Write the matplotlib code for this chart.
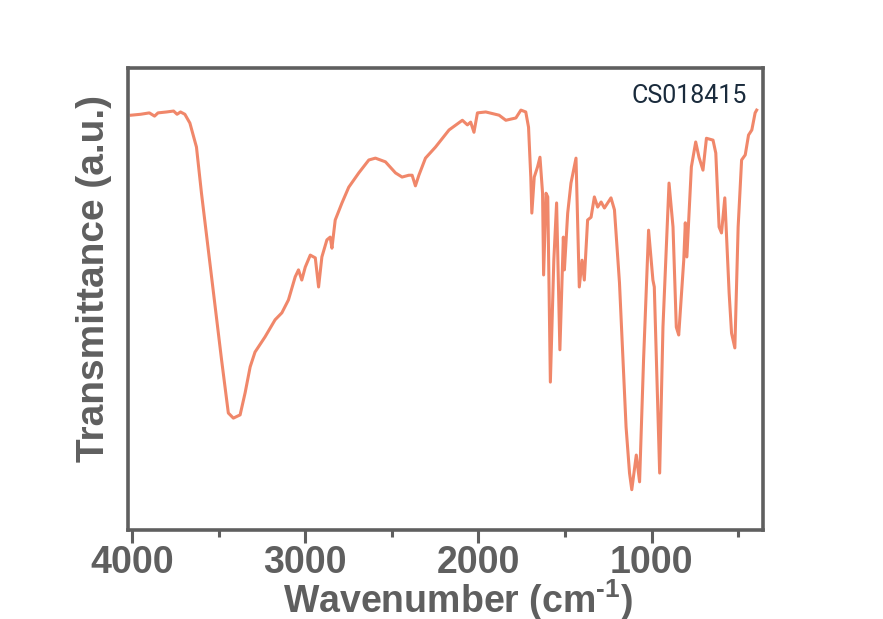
import numpy as np
import matplotlib.pyplot as plt

# wavenumber (cm-1) and transmittance (a.u.)
wavenumber = [4005, 3950, 3900, 3870, 3850, 3800, 3760, 3740, 3720, 3695,
              3666, 3628, 3599, 3541, 3483, 3444, 3415, 3376, 3347, 3318,
              3290, 3232, 3174, 3135, 3097, 3058, 3039, 3020, 3000, 2971,
              2942, 2923, 2904, 2875, 2856, 2846, 2827, 2788, 2749, 2691,
              2633, 2595, 2537, 2479, 2441, 2402, 2383, 2364, 2344, 2306,
              2248, 2170, 2093, 2064, 2045, 2026, 2006, 1958, 1881, 1842,
              1784, 1755, 1727, 1711, 1698, 1692, 1678, 1659, 1645, 1630,
              1624, 1610, 1600, 1585, 1565, 1549, 1530, 1510, 1504, 1485,
              1466, 1437, 1418, 1402, 1389, 1370, 1350, 1331, 1312, 1292,
              1273, 1235, 1215, 1186, 1148, 1128, 1115, 1089, 1070, 1047,
              1018, 993, 985, 954, 935, 900, 877, 858, 844, 815,
              806, 797, 771, 746, 727, 704, 684, 646, 630, 611,
              597, 578, 553, 539, 520, 501, 481, 460, 441, 422,
              403, 394]
transmittance = [89.8, 90.0, 90.3, 89.6, 90.3, 90.5, 90.7, 90.0, 90.5, 90.0,
                 88.1, 82.9, 72.9, 54.8, 36.8, 25.3, 24.2, 24.9, 29.7, 35.3,
                 38.5, 41.8, 45.5, 47.0, 49.8, 54.8, 56.3, 54.1, 56.9, 59.5,
                 58.9, 52.6, 59.1, 62.8, 63.4, 61.0, 67.1, 70.8, 74.2, 77.3,
                 80.1, 80.5, 79.7, 77.3, 76.4, 76.8, 76.8, 74.5, 76.8, 80.5,
                 82.9, 86.6, 88.7, 87.7, 88.3, 86.1, 90.3, 90.5, 89.8, 88.7,
                 89.2, 90.9, 90.5, 87.2, 76.4, 68.6, 76.4, 78.6, 80.7, 72.9,
                 55.2, 72.9, 72.1, 32.0, 58.4, 70.8, 39.0, 63.4, 56.3, 68.6,
                 75.1, 80.5, 52.6, 58.4, 54.1, 67.1, 67.7, 72.1, 69.9, 71.0,
                 69.7, 71.9, 69.3, 53.5, 22.3, 12.3, 8.7, 16.2, 10.4, 36.8,
                 64.9, 54.1, 52.6, 12.3, 43.9, 75.1, 65.6, 43.9, 42.2, 58.4,
                 66.5, 59.1, 78.6, 84.0, 80.7, 77.9, 84.8, 84.4, 81.6, 65.6,
                 64.3, 71.9, 51.3, 42.6, 39.4, 65.6, 80.1, 81.2, 85.5, 86.6,
                 90.3, 90.9]

grey = '#5f5f5f'

plt.rcParams['mathtext.fontset'] = 'custom'
plt.rcParams['mathtext.rm'] = 'Liberation Sans:bold'
plt.rcParams['mathtext.bf'] = 'Liberation Sans:bold'

fig = plt.figure(figsize=(8.83, 6.19), dpi=100)
ax = fig.add_axes([0.145, 0.144, 0.719, 0.746])

ax.plot(wavenumber, transmittance, color='#f0876a', linewidth=2.2,
        solid_joinstyle='round')

ax.set_xlim(4023, 358)
ax.set_ylim(0, 100)
ax.set_yticks([])
ax.set_xticks([4000, 3000, 2000, 1000])
ax.set_xticks([3500, 2500, 1500, 500], minor=True)
ax.tick_params(axis='x', which='major', direction='out', length=9, width=2.2,
               color=grey, labelsize=27, labelcolor=grey, pad=2)
ax.tick_params(axis='x', which='minor', direction='out', length=5, width=2.2,
               color=grey)
for lab in ax.get_xticklabels():
    lab.set_fontfamily('Liberation Sans')
    lab.set_fontweight('bold')

for sp in ax.spines.values():
    sp.set_linewidth(2.6)
    sp.set_color(grey)

ax.set_xlabel('Wavenumber (cm$^{\\text{-}1}$)', fontsize=27, fontweight='bold',
              color=grey, family='Liberation Sans', va='baseline')
ax.xaxis.set_label_coords(0.52, -0.180)
ax.set_ylabel('Transmittance (a.u.)', fontsize=28, fontweight='bold',
              color=grey, family='Liberation Sans')
ax.yaxis.set_label_coords(-0.026, 0.545)

ax.text(0.975, 0.939, 'CS018415', transform=ax.transAxes, ha='right', va='center',
        fontsize=18, color='#1a2b3c', family='Roboto')

fig.savefig('out.png', dpi=100)
